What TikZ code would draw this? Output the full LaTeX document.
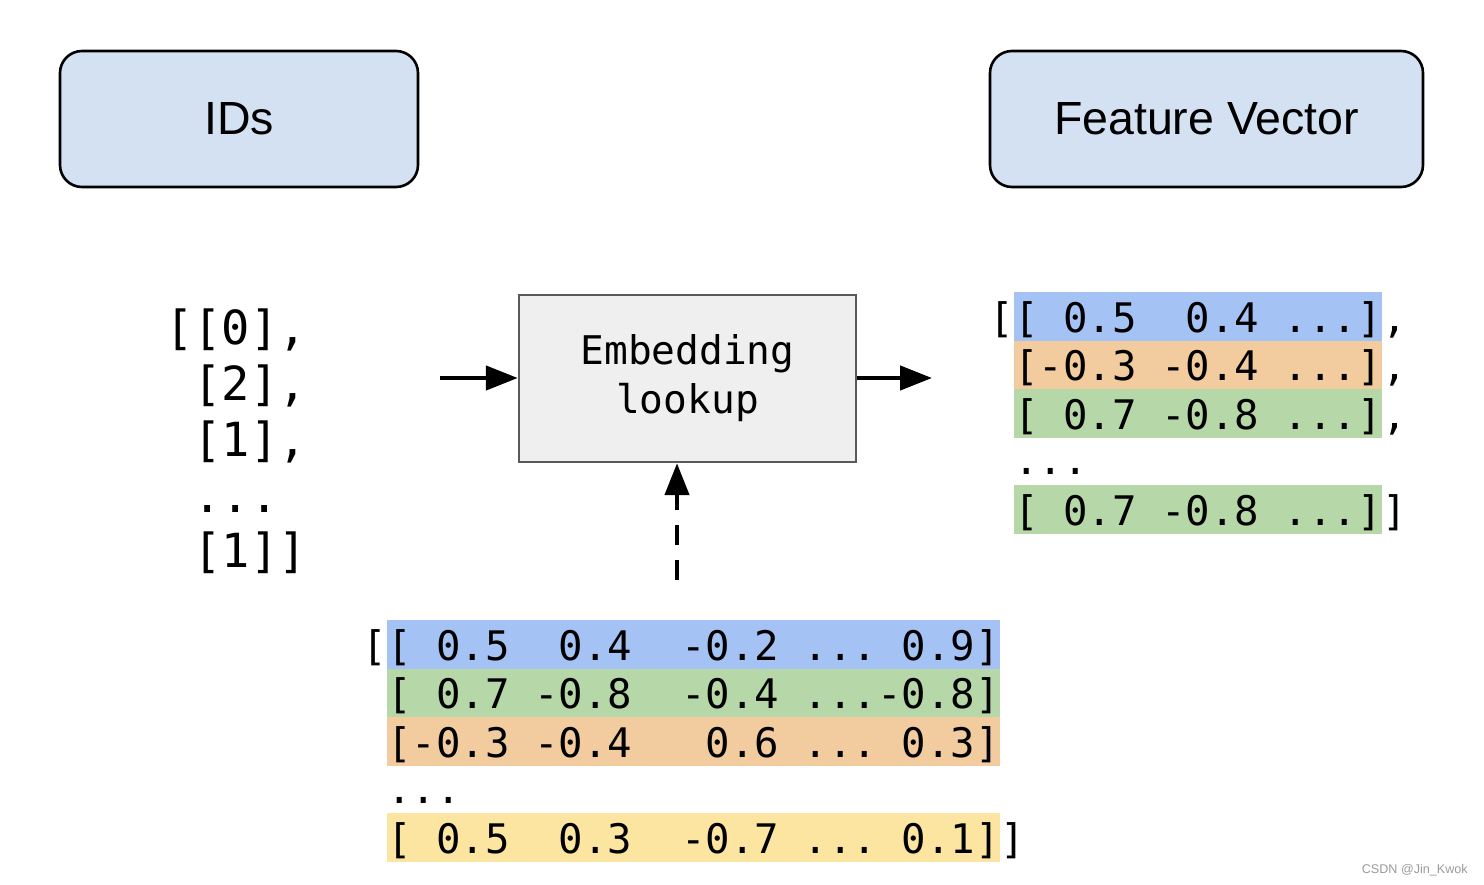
\documentclass[tikz,border=0pt]{standalone}
\usepackage{fontspec}
\setmainfont{Liberation Sans}
\newfontfamily\dvmono{DejaVu Sans Mono}
\usetikzlibrary{arrows.meta}
\definecolor{cblue}{HTML}{A4C2F4}
\definecolor{cgreen}{HTML}{B6D7A8}
\definecolor{corange}{HTML}{F2CB9F}
\definecolor{cyellow}{HTML}{FCE5A0}
\definecolor{hdrfill}{HTML}{D3E1F2}
\definecolor{embfill}{HTML}{EFEFEF}
\definecolor{embline}{HTML}{595959}
\definecolor{wmark}{HTML}{9A9A9A}
\tikzset{
  hdrbox/.style={draw=black, line width=2.6pt, fill=hdrfill, rounded corners=22pt,
    inner sep=0pt, minimum height=136pt, font=\fontsize{46.5}{52}\selectfont},
  embbox/.style={draw=embline, line width=2.4pt, fill=embfill, inner sep=0pt,
    minimum width=337pt, minimum height=167pt, align=center,
    font=\fontsize{39.5}{49}\selectfont\dvmono},
  mat/.style={inner sep=0pt, font=\fontsize{40.7}{48}\selectfont\dvmono},
  rowband/.style={mat, anchor=north west, minimum height=48.5pt,
    text height=40pt, text depth=8.5pt},
  ids/.style={inner sep=0pt, anchor=base west, font=\fontsize{47}{56}\selectfont\dvmono},
  flow/.style={line width=4.5pt, -{Triangle[length=32pt,width=24pt]}},
}
\begin{document}
\begin{tikzpicture}[x=1pt, y=-1pt]
\useasboundingbox (0,0) rectangle (1484,884);

% header boxes
\node[hdrbox, minimum width=358pt] (idbox) at (239,119) {IDs};
\node[hdrbox, minimum width=433pt] (fvbox) at (1206.5,119) {Feature Vector};

% ids column
\node[ids] (id1) at (165,344) {[[0],};
\node[ids] (id2) at (165,400) {~[2],};
\node[ids] (id3) at (165,456) {~[1],};
\node[ids] (id4) at (165,512) {~...};
\node[ids] (id5) at (165,567) {~[1]]};

% embedding lookup
\node[embbox] (emb) at (687.5,378.5) {Embedding\\lookup};
\coordinate (inL) at (440,378);
\coordinate (outR) at (932,378);
\coordinate (dsrc) at (677,580);
\draw[flow] (inL) -- (inL -| emb.west);
\draw[flow] (outR -| emb.east) -- (outR);
\draw[flow, dash pattern=on 20pt off 15pt] (dsrc) -- (dsrc |- emb.south);

% embedding matrix
\node[rowband, fill=cblue] (m1) at (387,620) {[~0.5~~0.4~~-0.2~...~0.9]};
\node[rowband, fill=cgreen] (m2) at (387,668.5) {[~0.7~-0.8~~-0.4~...-0.8]};
\node[rowband, fill=corange] (m3) at (387,717) {[-0.3~-0.4~~~0.6~...~0.3]};
\node[mat, anchor=base west] (m4) at (387,803) {...};
\node[rowband, fill=cyellow] (m5) at (387,813) {[~0.5~~0.3~~-0.7~...~0.1]};
\node[mat, anchor=base east] (mlb) at (m1.base west) {[};
\node[mat, anchor=base west] (mrb) at (m5.base east) {]};

% feature vectors
\node[rowband, fill=cblue] (f1) at (1014,292) {[~0.5~~0.4~...]};
\node[rowband, fill=corange] (f2) at (1014,340.5) {[-0.3~-0.4~...]};
\node[rowband, fill=cgreen] (f3) at (1014,389) {[~0.7~-0.8~...]};
\node[mat, anchor=base west] (f4) at (1014,474) {...};
\node[rowband, fill=cgreen] (f5) at (1014,485) {[~0.7~-0.8~...]};
\node[mat, anchor=base east] (flb) at (f1.base west) {[};
\node[mat, anchor=base west] (fc1) at (f1.base east) {,};
\node[mat, anchor=base west] (fc2) at (f2.base east) {,};
\node[mat, anchor=base west] (fc3) at (f3.base east) {,};
\node[mat, anchor=base west] (frb) at (f5.base east) {]};

% watermark
\node[inner sep=0pt, anchor=base east, text=wmark, font=\fontsize{12.6}{14}\selectfont] (wm) at (1468,873) {CSDN @Jin\_Kwok};
\end{tikzpicture}
\end{document}
